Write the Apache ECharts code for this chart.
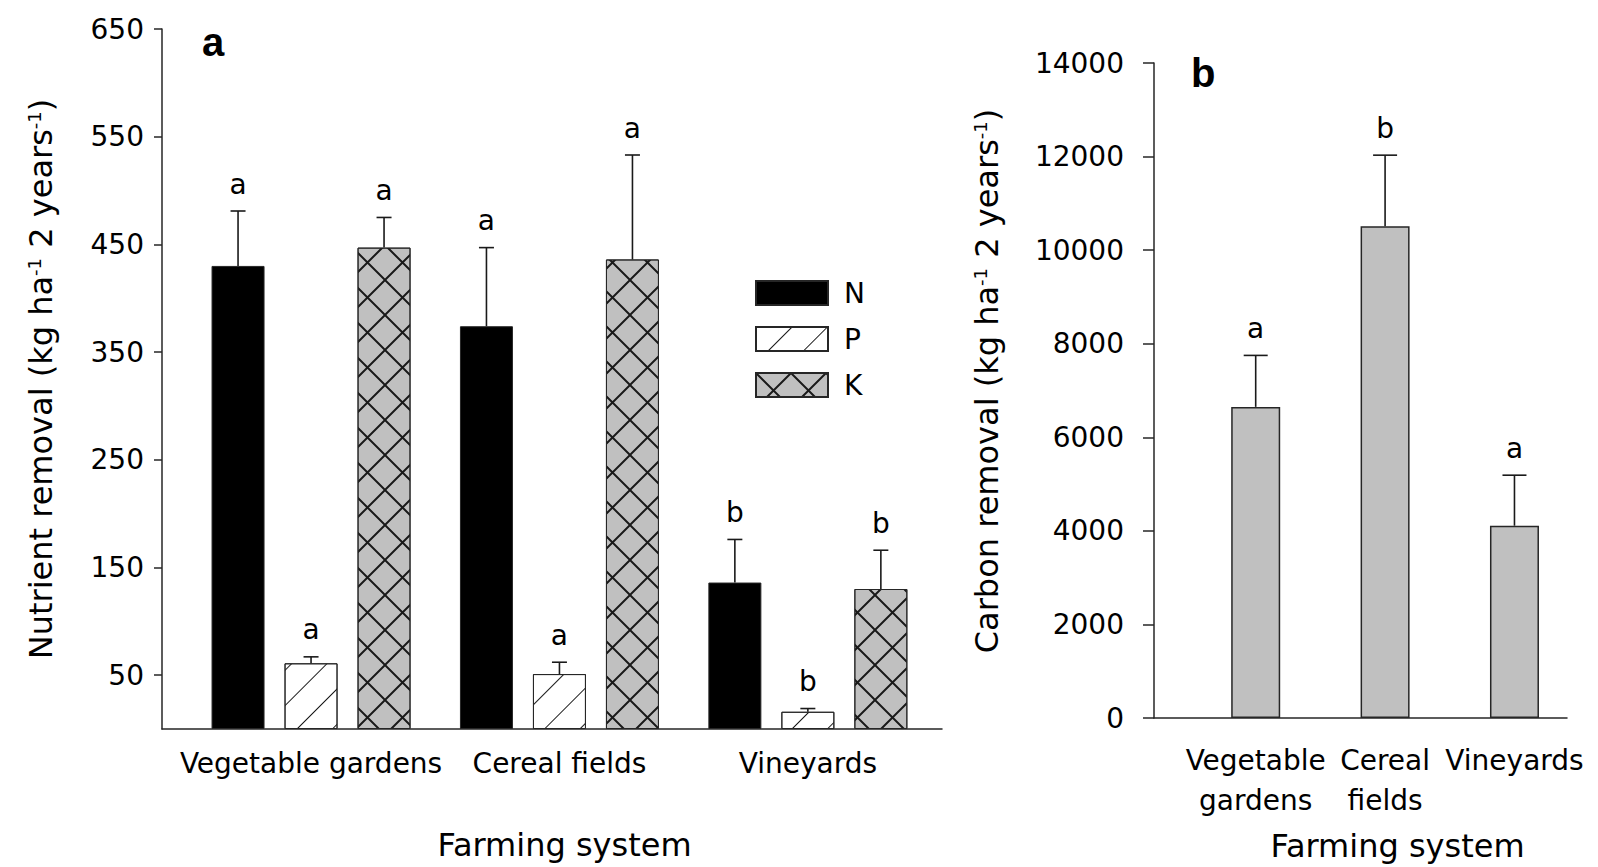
<!DOCTYPE html>
<html>
<head>
<meta charset="utf-8">
<title>Nutrient and carbon removal by farming system</title>
<script src="https://cdn.jsdelivr.net/npm/echarts@6/dist/echarts.min.js"></script>
<style>
  html, body { margin: 0; padding: 0; background: #ffffff; }
  #chart { width: 1598px; height: 867px; }
</style>
</head>
<body>
<div id="chart"></div>
<script>
// Farming systems (x categories)
const systems = ['Vegetable gardens', 'Cereal fields', 'Vineyards'];
const systemsWrapped = ['Vegetable\ngardens', 'Cereal\nfields', 'Vineyards'];

// Panel a: nutrient removal (kg ha-1 2 years-1), mean and standard error
const nMean = [430, 374, 136];
const nErr  = [51, 73, 40];
const nSig  = ['a', 'a', 'b'];

const pMean = [61, 51, 16];
const pErr  = [6, 11, 3];
const pSig  = ['a', 'a', 'b'];

const kMean = [447, 436, 130];
const kErr  = [28, 97, 36];
const kSig  = ['a', 'a', 'b'];

const nutrientTicks = [50, 150, 250, 350, 450, 550, 650];

// Panel b: carbon removal (kg ha-1 2 years-1), mean and standard error
const cMean = [6650, 10510, 4110];
const cErr  = [1100, 1520, 1080];
const cSig  = ['a', 'b', 'a'];

// ---- styling constants ----
const FONT = 'DejaVu Sans';
const INK = '#262626';
const BAR_W = 53;          // nutrient bar width (px)
const BAR_GAP = 20;        // gap between nutrient bars (px)
const STEP = BAR_W + BAR_GAP;
const C_BAR_W = 49;

const axisLineStyle = { color: INK, width: 1.5 };

// Cross-hatch tile: both diagonals of a unit cell as thin filled strips
const CROSS_PATH = 'path://M0 0L0.04 0L1 0.96L1 1L0.96 1L0 0.04Z' +
                   'M1 0L1 0.04L0.04 1L0 1L0 0.96L0.96 0Z';

const pairs = (arr) => arr.map((v, i) => [i, v]);
const triples = (m, e) => m.map((v, i) => [i, v, e[i]]);

// Upward error bar with cap and significance letter above it
function errorBar(sig, shiftPx, capHalf) {
  return function (params, api) {
    const i = params.dataIndex;
    const x0 = api.value(0);
    const mean = api.value(1);
    const se = api.value(2);
    const base = api.coord([x0, mean]);
    const top = api.coord([x0, mean + se]);
    const x = base[0] + shiftPx;
    const lineStyle = { stroke: '#1a1a1a', lineWidth: 1.6 };
    return {
      type: 'group',
      children: [
        { type: 'line', shape: { x1: x, y1: base[1], x2: x, y2: top[1] }, style: lineStyle },
        { type: 'line', shape: { x1: x - capHalf, y1: top[1], x2: x + capHalf, y2: top[1] }, style: lineStyle },
        {
          type: 'text',
          x: x,
          y: top[1] - 27,
          style: {
            text: sig[i],
            fill: '#000',
            font: '28px "' + FONT + '"',
            textAlign: 'center',
            textVerticalAlign: 'middle',
            align: 'center',
            verticalAlign: 'middle'
          }
        }
      ]
    };
  };
}

const titleRich = {
  t: { fontSize: 32, fontFamily: FONT, color: '#000' },
  s: { fontSize: 18, fontFamily: FONT, color: '#000', verticalAlign: 'top' }
};

const chart = echarts.init(document.getElementById('chart'), null, { renderer: 'svg' });

const option = {
  animation: false,
  backgroundColor: '#ffffff',
  textStyle: { fontFamily: FONT, color: '#000' },
  grid: [
    { left: 162, top: 29, width: 780, height: 700 },
    { left: 1154, top: 63, width: 413, height: 661 }
  ],
  xAxis: [
    {
      type: 'value', gridIndex: 0, min: -0.6, max: 2.54,
      axisLine: { show: true, onZero: false, lineStyle: axisLineStyle },
      axisTick: { show: false },
      splitLine: { show: false },
      axisLabel: {
        customValues: [0, 1, 2],
        formatter: (v) => systems[Math.round(v)],
        fontSize: 28, fontFamily: FONT, color: '#000', margin: 20
      },
      name: 'Farming system',
      nameLocation: 'middle',
      nameGap: 100,
      nameTextStyle: { fontSize: 32, fontFamily: FONT, color: '#000', padding: [0, 0, 0, 25] }
    },
    {
      type: 'value', gridIndex: 1, min: -0.786, max: 2.406,
      axisLine: { show: true, onZero: false, lineStyle: axisLineStyle },
      axisTick: { show: false },
      splitLine: { show: false },
      axisLabel: {
        customValues: [0, 1, 2],
        formatter: (v) => systemsWrapped[Math.round(v)],
        fontSize: 28, fontFamily: FONT, color: '#000', margin: 22, lineHeight: 40
      },
      name: 'Farming system',
      nameLocation: 'middle',
      nameGap: 112,
      nameTextStyle: { fontSize: 32, fontFamily: FONT, color: '#000', padding: [0, 0, 0, 74] }
    }
  ],
  yAxis: [
    {
      type: 'value', gridIndex: 0, min: 0, max: 650,
      axisLine: { show: true, onZero: false, lineStyle: axisLineStyle },
      axisTick: { show: true, length: 8, customValues: nutrientTicks, lineStyle: axisLineStyle },
      axisLabel: { customValues: nutrientTicks, fontSize: 28, fontFamily: FONT, color: '#000', margin: 18 },
      splitLine: { show: false },
      name: '{t|Nutrient removal (kg ha}{s|-1}{t| 2 years}{s|-1}{t|)}',
      nameLocation: 'middle',
      nameGap: 105,
      nameTextStyle: { rich: titleRich }
    },
    {
      type: 'value', gridIndex: 1, min: 0, max: 14000, interval: 2000,
      axisLine: { show: true, onZero: false, lineStyle: axisLineStyle },
      axisTick: { show: true, length: 11, lineStyle: axisLineStyle },
      axisLabel: {
        formatter: (v) => String(v),
        fontSize: 28, fontFamily: FONT, color: '#000', margin: 30
      },
      splitLine: { show: false },
      name: '{t|Carbon removal (kg ha}{s|-1}{t| 2 years}{s|-1}{t|)}',
      nameLocation: 'middle',
      nameGap: 151,
      nameTextStyle: { rich: titleRich, padding: [0, 0, 0, 19] }
    }
  ],
  legend: {
    show: true,
    orient: 'vertical',
    left: 755,
    top: 279,
    padding: 0,
    itemWidth: 72,
    itemHeight: 24,
    itemGap: 18,
    icon: 'rect',
    selectedMode: false,
    data: ['N', 'P', 'K'],
    textStyle: { fontSize: 28, fontFamily: FONT, color: '#000', lineHeight: 24, padding: [0, 0, 0, 11] }
  },
  graphic: [
    {
      type: 'text', left: 202, top: 22,
      style: { text: 'a', font: 'bold 40px "Liberation Sans"', fill: '#000' }
    },
    {
      type: 'text', left: 1191, top: 53,
      style: { text: 'b', font: 'bold 40px "Liberation Sans"', fill: '#000' }
    }
  ],
  series: [
    {
      name: 'N', type: 'bar', xAxisIndex: 0, yAxisIndex: 0,
      data: pairs(nMean), barWidth: BAR_W, barGap: (BAR_GAP / BAR_W * 100) + '%',
      itemStyle: { color: '#000000', borderColor: INK, borderWidth: 1 }
    },
    {
      name: 'P', type: 'bar', xAxisIndex: 0, yAxisIndex: 0,
      data: pairs(pMean), barWidth: BAR_W, barGap: (BAR_GAP / BAR_W * 100) + '%',
      itemStyle: {
        color: '#ffffff', borderColor: INK, borderWidth: 1,
        decal: {
          symbol: 'rect', symbolSize: 1, color: '#1a1a1a',
          dashArrayX: [1, 0], dashArrayY: [1, 24],
          rotation: -Math.PI / 4
        }
      }
    },
    {
      name: 'K', type: 'bar', xAxisIndex: 0, yAxisIndex: 0,
      data: pairs(kMean), barWidth: BAR_W, barGap: (BAR_GAP / BAR_W * 100) + '%',
      itemStyle: {
        color: '#c0c0c0', borderColor: INK, borderWidth: 1,
        decal: {
          symbol: CROSS_PATH, symbolSize: 1, symbolKeepAspect: false, color: '#1a1a1a',
          dashArrayX: [35, 0], dashArrayY: [35, 0],
          rotation: 0
        }
      }
    },
    {
      name: 'N error', type: 'custom', xAxisIndex: 0, yAxisIndex: 0, z: 5,
      data: triples(nMean, nErr), renderItem: errorBar(nSig, -STEP, 7.5)
    },
    {
      name: 'P error', type: 'custom', xAxisIndex: 0, yAxisIndex: 0, z: 5,
      data: triples(pMean, pErr), renderItem: errorBar(pSig, 0, 7.5)
    },
    {
      name: 'K error', type: 'custom', xAxisIndex: 0, yAxisIndex: 0, z: 5,
      data: triples(kMean, kErr), renderItem: errorBar(kSig, STEP, 7.5)
    },
    {
      name: 'C', type: 'bar', xAxisIndex: 1, yAxisIndex: 1,
      data: pairs(cMean), barWidth: C_BAR_W,
      itemStyle: { color: '#c0c0c0', borderColor: INK, borderWidth: 1.5 }
    },
    {
      name: 'C error', type: 'custom', xAxisIndex: 1, yAxisIndex: 1, z: 5,
      data: triples(cMean, cErr), renderItem: errorBar(cSig, 0, 12)
    }
  ]
};

chart.setOption(option);
</script>
</body>
</html>
